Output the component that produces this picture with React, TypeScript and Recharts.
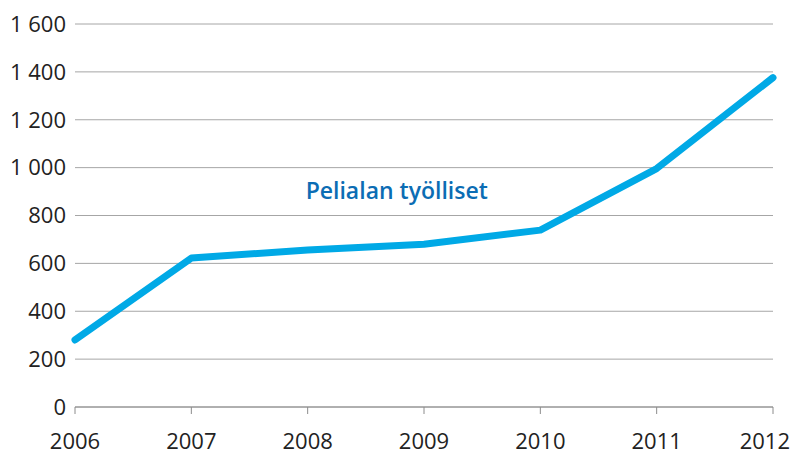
import { LineChart, Line, XAxis, YAxis, CartesianGrid, ReferenceDot } from "recharts";

const years = ["2006", "2007", "2008", "2009", "2010", "2011", "2012"];
const employed = [280, 622, 656, 680, 739, 996, 1376];
const yTicks = [0, 200, 400, 600, 800, 1000, 1200, 1400, 1600];
const seriesLabel = "Pelialan työlliset";

const data = years.map((year, i) => ({ year, value: employed[i] }));

const fmt = (v: number) => String(v).replace(/\B(?=(\d{3})+(?!\d))/g, " ");

const FONT = "'Open Sans', 'Noto Sans', sans-serif";

// last year label is pulled in so it stays inside the picture
const YearTick = (props: any) => {
  const { x, y, payload, index } = props;
  const last = index === years.length - 1;
  return (
    <text
      x={last ? 790 : x}
      y={y}
      dy="0.71em"
      textAnchor={last ? "end" : "middle"}
      fill="#222"
      fontSize={22}
      fontFamily={FONT}
    >
      {payload.value}
    </text>
  );
};

export default function App() {
  return (
    <div style={{ position: "absolute", left: 0, top: 0 }}>
      <LineChart width={794} height={454} data={data} margin={{ top: 24, right: 21, bottom: 0, left: 0 }}>
        <CartesianGrid vertical={false} stroke="#a6a6a6" strokeWidth={1} />
        <XAxis
          dataKey="year"
          height={47}
          stroke="#8c8c8c"
          tickSize={7}
          tickMargin={19}
          interval={0}
          tick={<YearTick />}
        />
        <YAxis
          width={75}
          domain={[0, 1600]}
          ticks={yTicks}
          tickFormatter={fmt}
          axisLine={false}
          tickLine={false}
          tickSize={0}
          tickMargin={9}
          tick={{ fill: "#222", fontSize: 22, fontFamily: FONT }}
        />
        <Line
          type="linear"
          dataKey="value"
          stroke="#00a9e6"
          strokeWidth={7}
          strokeLinecap="round"
          strokeLinejoin="round"
          dot={false}
          activeDot={false}
          isAnimationActive={false}
        />
        <ReferenceDot
          x="2008"
          y={870}
          r={0}
          shape={(p: any) => (
            <text x={p.cx - 2} y={p.cy} fill="#0b6db4" fontSize={23} fontWeight={600} fontFamily={FONT}>
              {seriesLabel}
            </text>
          )}
        />
      </LineChart>
    </div>
  );
}
